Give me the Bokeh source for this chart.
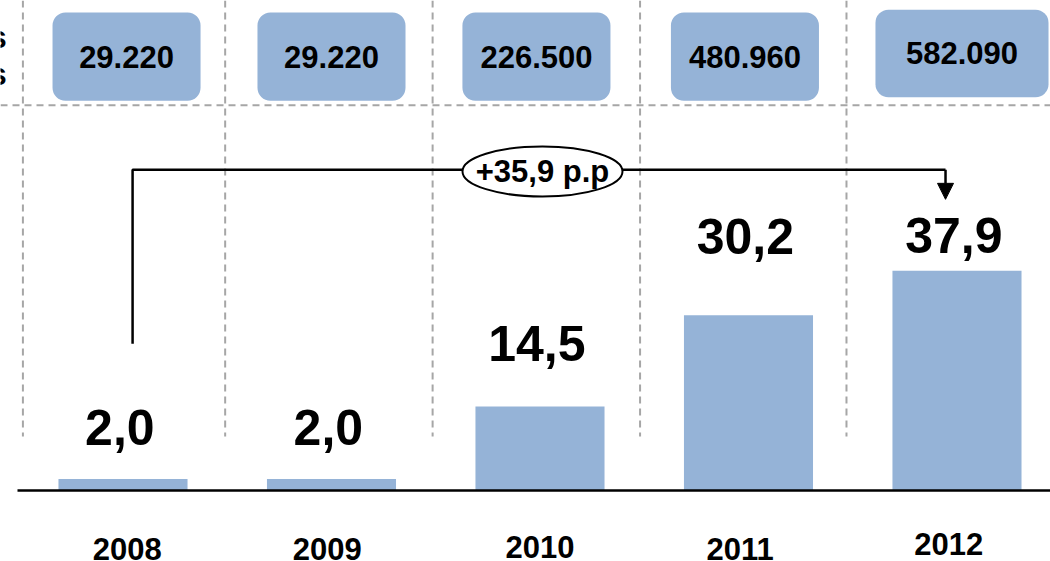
from bokeh.plotting import figure
from bokeh.models import Range1d, Arrow, NormalHead
from bokeh.embed import file_html
from bokeh.resources import INLINE
from bokeh.core.properties import value

# ---- data ----
years = ["2008", "2009", "2010", "2011", "2012"]
shares = [2.0, 2.0, 14.5, 30.2, 37.9]
share_labels = ["2,0", "2,0", "14,5", "30,2", "37,9"]
totals = ["29.220", "29.220", "226.500", "480.960", "582.090"]
change_label = "+35,9 p.p"
row_tails = ["s", "s"]

# ---- layout helpers (positions / styles) ----
idx = list(range(len(years)))
BAR_COLOR = "#95B3D7"
GRAY = "#A6A6A6"
FONT = value("Liberation Sans")

X0, X1 = -0.5875, 4.4485
Y0, Y1 = -12.24, 84.48

p = figure(width=1050, height=561, x_range=Range1d(X0, X1), y_range=Range1d(Y0, Y1),
           output_backend="svg", toolbar_location=None, min_border=0,
           x_axis_location=None, y_axis_location=None)
p.grid.visible = False
p.outline_line_color = None
p.background_fill_color = "white"
p.border_fill_color = "white"

# dashed separators
sep_x = [i - 0.5 + d for i, d in zip(idx, [0.02, -0.01, -0.015, -0.02, -0.03])]
p.segment(x0=sep_x, y0=[Y1] * len(sep_x), x1=sep_x, y1=[9.3] * len(sep_x),
          line_color=GRAY, line_width=2, line_dash="7 5")
p.segment(x0=[X0], y0=[66.4], x1=[X1], y1=[66.4],
          line_color=GRAY, line_width=2, line_dash="7 5")

# cut-off row captions at the left edge
p.text(x=[X0 + 0.03, X0 + 0.03], y=[78.1, 71.7], text=row_tails,
       text_font=FONT, text_font_style="bold", text_font_size="31px",
       text_align="right", text_baseline="middle", text_color="black")

# top boxes with totals
box_hw = [0.355, 0.355, 0.355, 0.355, 0.415]
box_cx = [i + d for i, d in zip(idx, [0.017, 0.0, -0.017, -0.017, 0.024])]
box_top = [82.4, 82.4, 82.4, 82.4, 82.9]
box_bot = [67.2, 67.2, 67.2, 67.2, 67.8]
p.quad(left=[c - h for c, h in zip(box_cx, box_hw)], right=[c + h for c, h in zip(box_cx, box_hw)],
       top=box_top, bottom=box_bot, fill_color=BAR_COLOR, line_color=None, border_radius=13)
p.text(x=box_cx, y=[(t + b) / 2 for t, b in zip(box_top, box_bot)], text=totals,
       text_font=FONT, text_font_style="bold", text_font_size="31px",
       text_align="center", text_baseline="middle", text_color="black")

# bars
p.vbar(x=idx, top=shares, bottom=0, width=0.619, fill_color=BAR_COLOR, line_color=None)
p.segment(x0=[-0.506], y0=[0], x1=[X1], y1=[0], line_color="black", line_width=2.5)

# value labels (vertical centres of the digits)
label_mid = [10.8, 10.8, 25.4, 43.8, 44.0]
p.text(x=[i - 0.015 for i in idx], y=label_mid, text=share_labels,
       text_font=FONT, text_font_style="bold", text_font_size="50px",
       text_align="center", text_baseline="middle", text_color="black")

# year labels
year_mid = [-10.0, -10.0, -9.7, -10.0, -9.3]
p.text(x=[i + d for i, d in zip(idx, [0.02, -0.02, 0.0, -0.04, -0.04])], y=year_mid, text=years,
       text_font=FONT, text_font_style="bold", text_font_size="31px",
       text_align="center", text_baseline="middle", text_color="black")

# bracket with arrow
bx0 = idx[0] + 0.046
bx1 = idx[-1] - 0.055
by = 55.3
p.line(x=[bx0, bx0, bx1], y=[25.3, by, by], line_color="black", line_width=2.5)
p.add_layout(Arrow(x_start=bx1, y_start=by, x_end=bx1, y_end=50.2,
                   line_color="black", line_width=2.5,
                   end=NormalHead(size=16, fill_color="black", line_color="black", line_width=1)))

ex = (idx[0] + idx[-1]) / 2 + 0.012
p.ellipse(x=[ex], y=[55.0], width=160, height=50, width_units="screen", height_units="screen",
          fill_color="white", line_color="black", line_width=2)
p.text(x=[ex], y=[55.0], text=[change_label], text_font=FONT, text_font_style="bold",
       text_font_size="31px", text_align="center", text_baseline="middle", text_color="black")

open("out.html", "w").write(file_html(p, INLINE))
